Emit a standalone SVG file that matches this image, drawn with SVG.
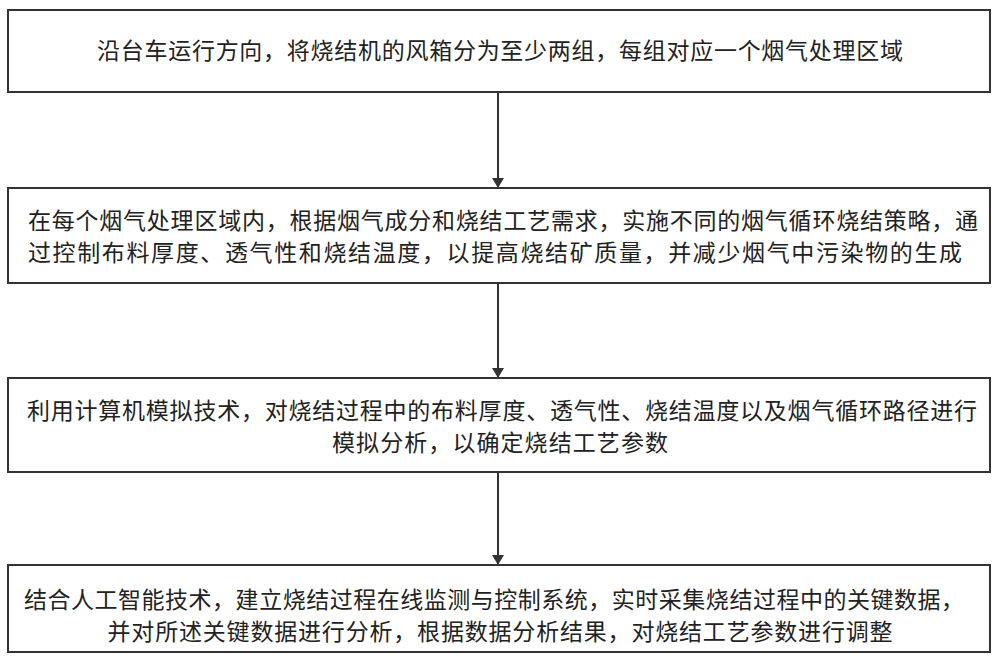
<svg xmlns="http://www.w3.org/2000/svg" width="1000" height="661" viewBox="0 0 1000 661">
<defs><style>
rect{fill:#fff;stroke:#333;stroke-width:2}
text{font-family:"Noto Sans CJK SC",sans-serif;font-size:23px;fill:#222}
.c{text-anchor:middle}
line{stroke:#333;stroke-width:2}
</style>
<marker id="a" markerWidth="10" markerHeight="12" refX="9" refY="6" orient="auto" markerUnits="userSpaceOnUse"><path d="M0,0 L10,6 L0,12 z" fill="#333"/></marker></defs>
<rect width="1000" height="661" style="stroke:none"/>
<g id="connectors">
<line x1="498" y1="92" x2="498" y2="187" marker-end="url(#a)"/>
<line x1="498" y1="283" x2="498" y2="377" marker-end="url(#a)"/>
<line x1="498" y1="472" x2="498" y2="564" marker-end="url(#a)"/>
</g>
<g id="n1"><rect x="8" y="10" width="982" height="82"/>
<text class="c" x="500" y="59" textLength="806">沿台车运行方向，将烧结机的风箱分为至少两组，每组对应一个烟气处理区域</text></g>
<g id="n2"><rect x="8" y="188" width="982" height="95"/>
<text x="28" y="229" textLength="950">在每个烟气处理区域内，根据烟气成分和烧结工艺需求，实施不同的烟气循环烧结策略，通</text>
<text x="28" y="261" textLength="934">过控制布料厚度、透气性和烧结温度，以提高烧结矿质量，并减少烟气中污染物的生成</text></g>
<g id="n3"><rect x="8" y="378" width="982" height="94"/>
<text class="c" x="502" y="419" textLength="950">利用计算机模拟技术，对烧结过程中的布料厚度、透气性、烧结温度以及烟气循环路径进行</text>
<text class="c" x="500" y="451" textLength="336">模拟分析，以确定烧结工艺参数</text></g>
<g id="n4"><rect x="8" y="565" width="982" height="87"/>
<text class="c" x="494" y="608" textLength="940">结合人工智能技术，建立烧结过程在线监测与控制系统，实时采集烧结过程中的关键数据，</text>
<text class="c" x="500" y="640" textLength="785">并对所述关键数据进行分析，根据数据分析结果，对烧结工艺参数进行调整</text></g>
</svg>
